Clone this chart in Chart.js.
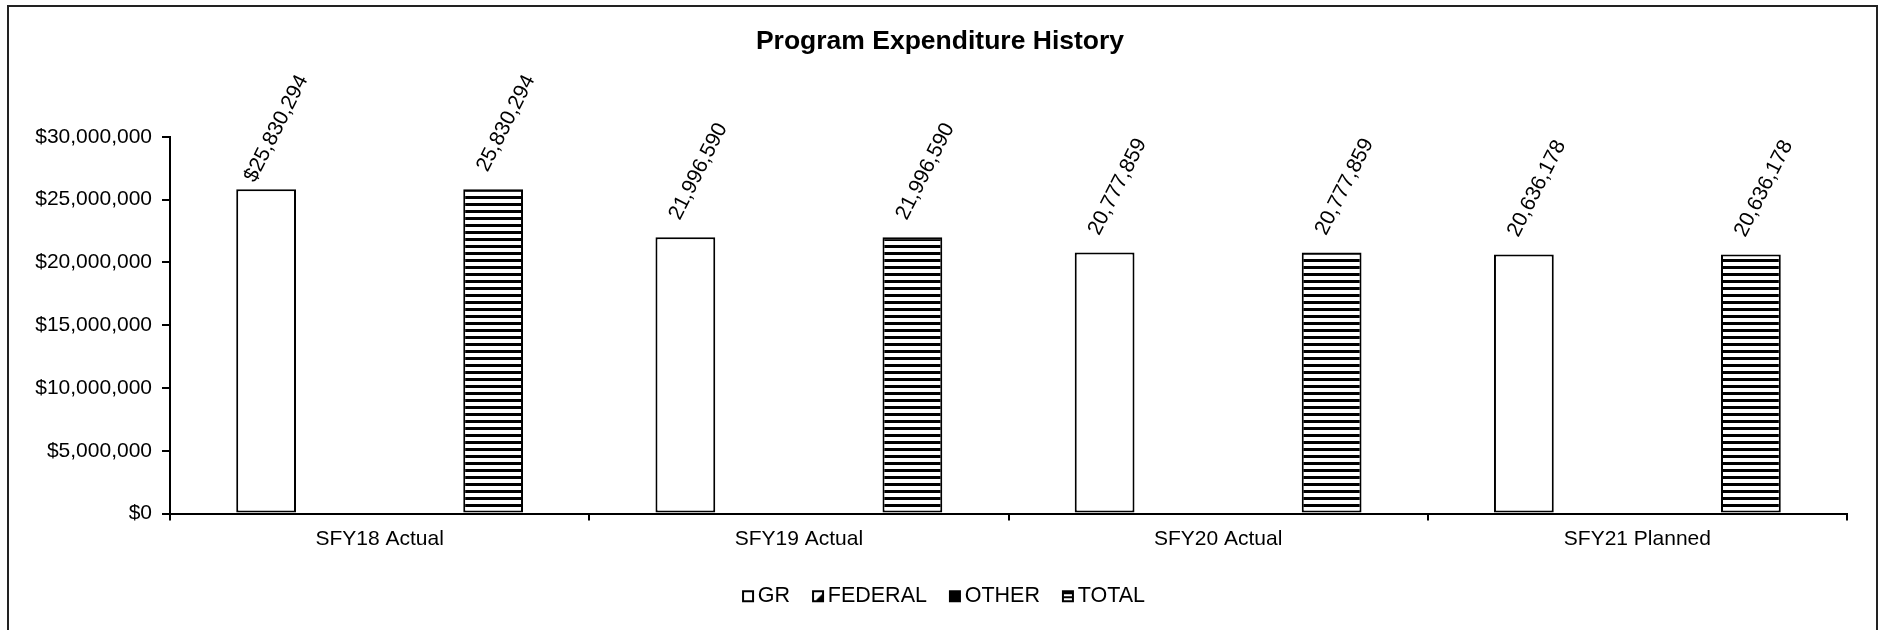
<!DOCTYPE html>
<html>
<head>
<meta charset="utf-8">
<title>Program Expenditure History</title>
<script src="https://cdn.jsdelivr.net/npm/chart.js@4/dist/chart.umd.min.js"></script>
<style>
  html, body { margin: 0; padding: 0; background: #fff; }
  #wrap { width: 1880px; height: 630px; }
</style>
</head>
<body>
<div id="wrap"><canvas id="expenditureChart" width="1880" height="630"></canvas></div>
<script>
const categories = ["SFY18 Actual", "SFY19 Actual", "SFY20 Actual", "SFY21 Planned"];
const grValues = [25830294, 21996590, 20777859, 20636178];
const federalValues = [null, null, null, null];
const otherValues = [null, null, null, null];
const totalValues = [25830294, 21996590, 20777859, 20636178];
const seriesNames = ["GR", "FEDERAL", "OTHER", "TOTAL"];
const yTicks = [0, 5000000, 10000000, 15000000, 20000000, 25000000, 30000000];

const fontFamily = "'Liberation Sans', Arial, sans-serif";
Chart.defaults.font.family = fontFamily;
Chart.defaults.color = "#000";

function makeTile(w, h, draw) {
  const c = document.createElement("canvas");
  c.width = w;
  c.height = h;
  draw(c.getContext("2d"), w, h);
  return c;
}

// excel only put the currency sign on the very first label
function labelText(datasetIndex, index, value) {
  const prefix = datasetIndex === 0 && index === 0 ? "$" : "";
  return prefix + Number(value).toLocaleString("en-US");
}

const canvas = document.getElementById("expenditureChart");
const ctx = canvas.getContext("2d");

const stripeTile = makeTile(8, 14, (g, w, h) => {
  g.fillStyle = "#fff";
  g.fillRect(0, 0, w, h);
  g.fillStyle = "#000";
  g.fillRect(0, 0, w, 3);
  g.fillRect(0, 7, w, 3);
});
const stripePattern = ctx.createPattern(stripeTile, "repeat");

// legend swatches sit on the right of a wider image so the text gap stays small
function swatch(draw) {
  return makeTile(28, 14, (g) => {
    g.save();
    g.translate(15, 1);
    draw(g);
    g.restore();
  });
}
const legendSwatches = [
  swatch((g) => {
    g.fillStyle = "#fff";
    g.fillRect(0, 0, 12, 12);
    g.strokeStyle = "#000";
    g.lineWidth = 2;
    g.strokeRect(1, 1, 10, 10);
  }),
  swatch((g) => {
    g.fillStyle = "#fff";
    g.fillRect(0, 0, 12, 12);
    g.fillStyle = "#000";
    g.beginPath();
    g.moveTo(12, 2);
    g.lineTo(12, 12);
    g.lineTo(2, 12);
    g.closePath();
    g.fill();
    g.strokeStyle = "#000";
    g.lineWidth = 2;
    g.strokeRect(1, 1, 10, 10);
  }),
  swatch((g) => {
    g.fillStyle = "#000";
    g.fillRect(0, 0, 12, 12);
  }),
  swatch((g) => {
    g.fillStyle = "#fff";
    g.fillRect(0, 0, 12, 12);
    g.fillStyle = "#000";
    g.fillRect(0, 0, 12, 4);
    g.fillRect(0, 6, 12, 2);
    g.strokeStyle = "#000";
    g.lineWidth = 2;
    g.strokeRect(1, 1, 10, 10);
  }),
];

const chartBorder = {
  id: "chartBorder",
  beforeDraw(chart) {
    const c = chart.ctx;
    c.save();
    c.fillStyle = "#fff";
    c.fillRect(0, 0, chart.width, chart.height);
    c.strokeStyle = "#222";
    c.lineWidth = 2;
    c.strokeRect(8, 6, 1869, 640);
    c.restore();
  },
};

const barValueLabels = {
  id: "barValueLabels",
  afterDatasetsDraw(chart) {
    const c = chart.ctx;
    c.save();
    c.font = "21px " + fontFamily;
    c.fillStyle = "#000";
    c.textAlign = "right";
    c.textBaseline = "alphabetic";
    chart.data.datasets.forEach((ds, di) => {
      const meta = chart.getDatasetMeta(di);
      meta.data.forEach((bar, i) => {
        const v = ds.data[i];
        if (v == null) return;
        c.save();
        c.translate(bar.x + 42, bar.y - 110);
        c.rotate((-63 * Math.PI) / 180);
        c.fillText(labelText(di, i, v), 0, 0);
        c.restore();
      });
    });
    c.restore();
  },
};

const barBorder = { borderColor: "#000", borderWidth: 2, borderSkipped: false };

new Chart(ctx, {
  type: "bar",
  data: {
    labels: categories,
    datasets: [
      { label: seriesNames[0], data: grValues, backgroundColor: "#fff", ...barBorder },
      { label: seriesNames[1], data: federalValues, backgroundColor: "#fff", ...barBorder },
      { label: seriesNames[2], data: otherValues, backgroundColor: "#000", ...barBorder },
      { label: seriesNames[3], data: totalValues, backgroundColor: stripePattern, ...barBorder },
    ],
  },
  options: {
    responsive: false,
    animation: false,
    datasets: { bar: { categoryPercentage: 0.722, barPercentage: 0.79 } },
    layout: { padding: { top: 0, left: 33, right: 33, bottom: 13 } },
    plugins: {
      title: {
        display: true,
        text: "Program Expenditure History",
        color: "#000",
        font: { size: 26.5, weight: "bold" },
        padding: { top: 26, bottom: 79 },
      },
      legend: {
        position: "bottom",
        labels: {
          color: "#000",
          font: { size: 21.5 },
          boxWidth: 12,
          boxHeight: 12,
          usePointStyle: true,
          padding: 15,
          generateLabels(chart) {
            return Chart.defaults.plugins.legend.labels
              .generateLabels(chart)
              .map((item, i) => ({ ...item, pointStyle: legendSwatches[i] }));
          },
        },
      },
      tooltip: { enabled: false },
    },
    scales: {
      x: {
        grid: { offset: true, drawOnChartArea: false, drawTicks: true, tickLength: 7, color: "#000", lineWidth: 2 },
        border: { color: "#000", width: 2 },
        ticks: { color: "#000", font: { size: 21 }, padding: 6, maxRotation: 0 },
        afterFit: (scale) => { scale.height = 57; },
      },
      y: {
        min: 0,
        max: 30000000,
        grid: { drawOnChartArea: false, drawTicks: true, tickLength: 8, color: "#000", lineWidth: 2 },
        border: { color: "#000", width: 2 },
        ticks: {
          color: "#000",
          font: { size: 21 },
          padding: 10,
          callback: (value) => "$" + Number(value).toLocaleString("en-US"),
        },
        afterBuildTicks: (scale) => { scale.ticks = yTicks.map((value) => ({ value })); },
        afterFit: (scale) => { scale.width = 137; },
      },
    },
  },
  plugins: [chartBorder, barValueLabels],
});
</script>
</body>
</html>
